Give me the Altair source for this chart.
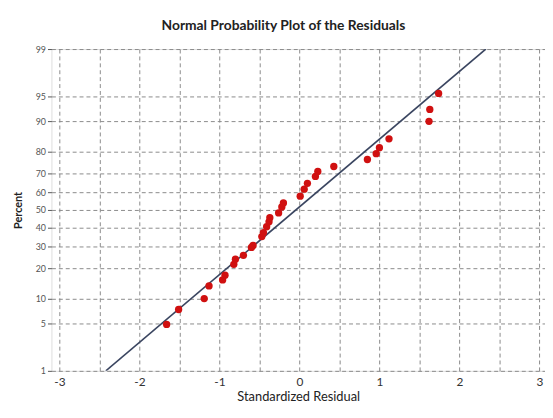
import altair as alt
import pandas as pd
from statistics import NormalDist

# ---- data ----
residuals = [-1.66, -1.51, -1.19, -1.13, -0.96, -0.93, -0.82, -0.80, -0.70, -0.60,
             -0.58, -0.47, -0.45, -0.41, -0.38, -0.37, -0.26, -0.22, -0.20, 0.01,
             0.06, 0.10, 0.20, 0.23, 0.43, 0.85, 0.96, 1.00, 1.12, 1.62,
             1.63, 1.74]
percents = [4.9, 7.5, 10.0, 13.6, 15.6, 17.3, 21.6, 23.8, 25.6, 29.4,
            30.4, 35.0, 37.1, 40.4, 43.2, 45.5, 48.3, 51.7, 54.0, 57.9,
            61.8, 65.0, 68.6, 71.1, 73.5, 76.7, 79.2, 81.6, 84.8, 90.0,
            92.7, 95.4]
fit_resid = [-2.42, 2.33]
fit_pct = [1, 99]
y_ticks_pct = [1, 5, 10, 20, 30, 40, 50, 60, 70, 80, 90, 95, 99]
x_grid = [-3, -2.5, -2, -1.5, -1, -0.5, 0, 0.5, 1, 1.5, 2, 2.5, 3]

nd = NormalDist()
z = lambda p: nd.inv_cdf(p / 100.0)

pts = pd.DataFrame({"resid": residuals, "z": [z(p) for p in percents], "pct": percents})
fit = pd.DataFrame({"resid": fit_resid, "z": [z(p) for p in fit_pct]})

y_vals = [z(p) for p in y_ticks_pct]
label_expr = ""
for p, zv in zip(y_ticks_pct, y_vals):
    label_expr += f"abs(datum.value - ({zv:.5f})) < 0.01 ? '{p}' : "
label_expr += "''"

FONT = "Lato"
xscale = alt.Scale(domain=[-3.1, 3.07], nice=False, zero=False)
yscale = alt.Scale(domain=[y_vals[0], y_vals[-1]], nice=False, zero=False)

xaxis = alt.Axis(values=x_grid, tickCount=40,
                 labelExpr="datum.value % 1 == 0 ? replace(format(datum.value, 'd'), '\u2212', '-') : ''",
                 title="Standardized Residual", grid=True, gridDash=[4, 3],
                 gridColor="#8a8a8a", gridOpacity=1, gridWidth=1, ticks=False,
                 domain=False, labelFont=FONT, labelFontSize=12, labelColor="#333",
                 labelPadding=6, labelOverlap=False, titleFont=FONT, titleFontSize=13,
                 titleFontWeight="normal", titleColor="#222", titlePadding=3,
                 labelFlush=False)
yaxis = alt.Axis(values=y_vals, tickCount=40, labelExpr=label_expr, title="Percent",
                 grid=True, gridDash=[4, 3], gridColor="#8a8a8a", gridOpacity=1,
                 gridWidth=1, ticks=True, tickSize=4, tickColor="#555",
                 domain=False, labelFont=FONT, labelFontSize=9, labelColor="#555",
                 labelPadding=2, labelOverlap=False, titleFont=FONT, titleFontSize=11,
                 titleFontWeight="bold", titleColor="#222", titlePadding=12,
                 labelFlush=False)

points = alt.Chart(pts).mark_circle(size=55, color="#d01010", opacity=1).encode(
    x=alt.X("resid:Q", scale=xscale, axis=xaxis),
    y=alt.Y("z:Q", scale=yscale, axis=yaxis),
)
line = alt.Chart(fit).mark_line(color="#3a4560", strokeWidth=1.6, clip=True).encode(
    x=alt.X("resid:Q", scale=xscale),
    y=alt.Y("z:Q", scale=yscale),
)

chart = alt.layer(line, points).properties(
    width=500, height=326,
    title=alt.TitleParams("Normal Probability Plot of the Residuals", font=FONT,
                          fontSize=14, fontWeight="bold", color="#222",
                          anchor="middle", dx=-15, offset=12),
    autosize=alt.AutoSizeParams(type="none"),
    padding={"left": 44, "top": 39, "right": 0, "bottom": 31},
).configure_view(stroke="#444", strokeWidth=2).configure(background="white")

chart.save("out.html", embed_options={"renderer": "svg", "actions": False})
